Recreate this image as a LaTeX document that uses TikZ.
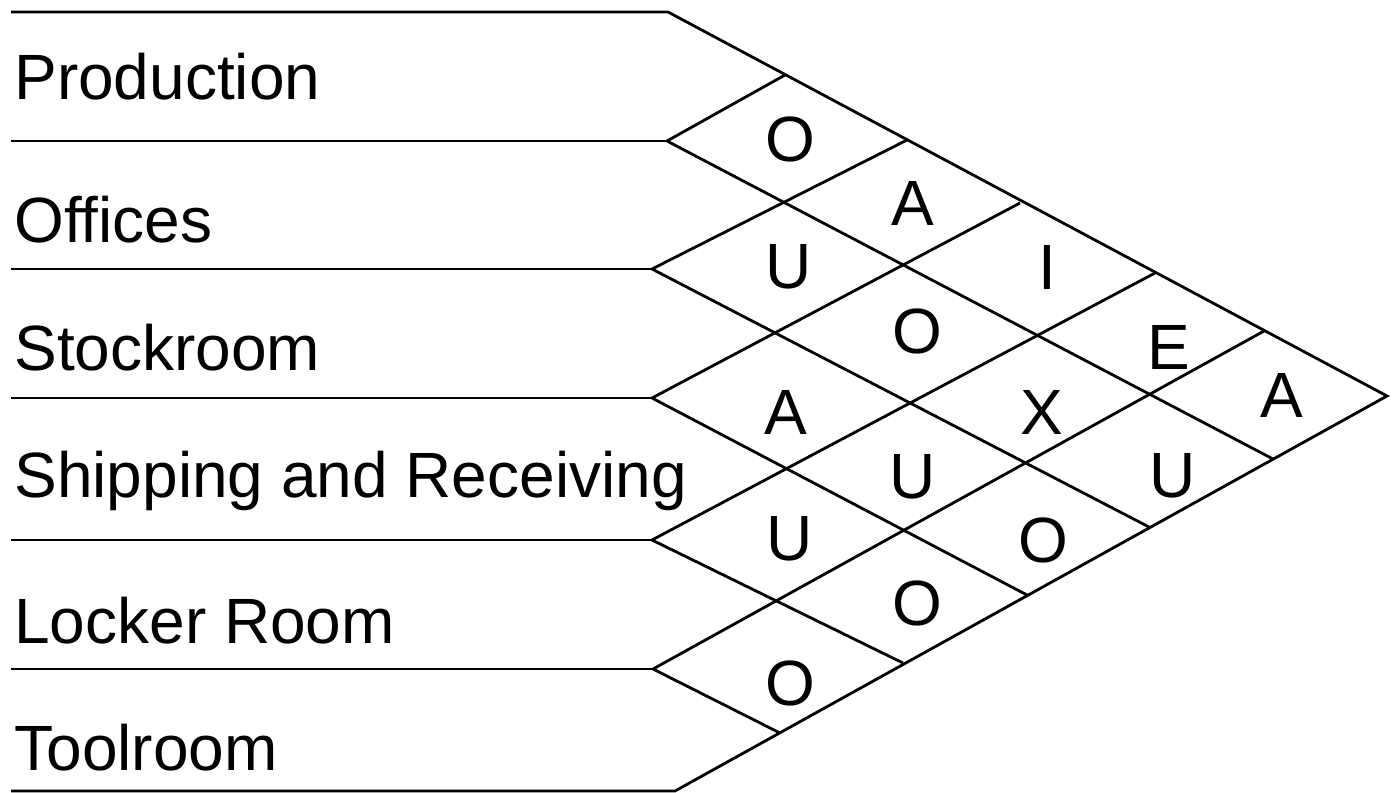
\documentclass[tikz,border=0pt]{standalone}
\usepackage{fontspec}
\setmainfont{Liberation Sans}
\begin{document}
\begin{tikzpicture}[x=0.5pt,y=-0.5pt,line width=1.4pt,
    dept/.style={anchor=base west,inner sep=0pt,font=\fontsize{32}{38}\selectfont},
    rel/.style={inner sep=0pt,font=\fontsize{32}{38}\selectfont}]
    \useasboundingbox (0,0) rectangle (1395,792);
    % left ends of the row lines
    \foreach \n/\x/\y in {0/668/12,1/667/141,2/652/269,3/652/398,4/652/540,5/653/669,6/675/791}
        \coordinate (P\n) at (\x,\y);
    \coordinate (apex) at (1387,396);
    % where the diagonals meet the top and bottom edges
    \foreach \n/\x/\y in {1/785/75,2/907/140,3/1020/203,4/1155/273,5/1264/331}
        \coordinate (T\n) at (\x,\y);
    \foreach \n/\x/\y in {1/1273/459,2/1149/527,3/1027/595,4/903/663,5/780/733}
        \coordinate (B\n) at (\x,\y);
    % outline
    \draw (11,12) -- (P0) -- (apex) -- (P6) -- (11,791);
    % rows and diagonals
    \foreach \n/\y in {1/141,2/269,3/398,4/540,5/669}{
        \draw (11,\y) -- (P\n);
        \draw (T\n) -- (P\n) -- (B\n);
    }
    % departments
    \node[dept] (prod) at (13,99) {Production};
    \node[dept] (off) at (13,242) {Offices};
    \node[dept] (stock) at (13,370) {Stockroom};
    \node[dept] (ship) at (13,497) {Shipping and Receiving};
    \node[dept] (lock) at (13,643) {Locker Room};
    \node[dept] (tool) at (13,770) {Toolroom};
    % closeness ratings
    \foreach \nm/\x/\y/\r in {r12/790/139/O,r13/913/203/A,r14/1047/267/I,r15/1169/347/E,r16/1282/395/A,
        r23/789/267/U,r24/917/331/O,r25/1042/412/X,r26/1173/476/U,
        r34/786/412/A,r35/913/477/U,r36/1043/540/O,
        r45/790/539/U,r46/917/603/O,
        r56/790/683/O}
        \node[rel] (\nm) at (\x,\y) {\r};
\end{tikzpicture}
\end{document}
